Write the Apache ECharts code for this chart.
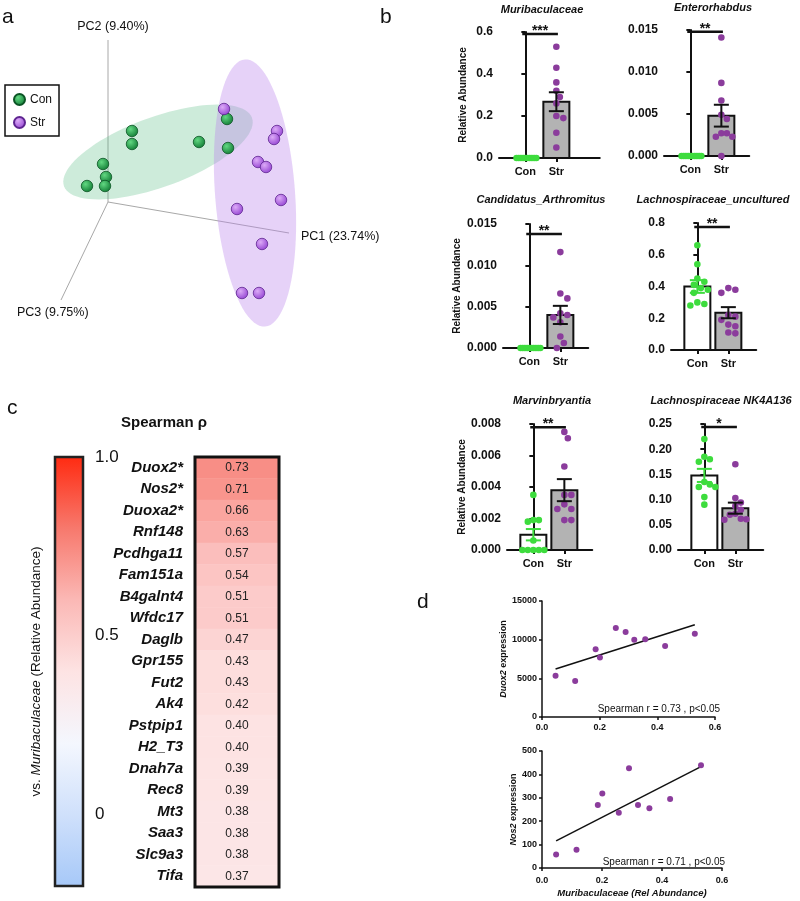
<!DOCTYPE html>
<html><head><meta charset="utf-8">
<script src="https://cdn.jsdelivr.net/npm/echarts@6/dist/echarts.min.js"></script>
<style>html,body{margin:0;padding:0;background:#fff}#c{width:800px;height:901px}</style>
</head><body><div id="c"></div><script>
const FONT = '"Liberation Sans", Arial, Helvetica, sans-serif';
const CON = '#3ddc3d', STR = '#8b3c9c';

// ---------- Panel a: PCoA scores (plot units) ----------
const pcaConX = [132, 132, 199, 227, 228, 103, 106, 105, 87];
const pcaConY = [131, 144, 142, 119, 148, 164, 177, 186, 186];
const pcaStrX = [224, 277, 274, 258, 266, 281, 237, 262, 242, 259];
const pcaStrY = [109, 131, 139, 162, 167, 200, 209, 244, 293, 293];
const conEllipse = [158, 152, 100, 35, -20];   // cx, cy, a, b, angle
const strEllipse = [255, 193, 134, 40, 85.7];
const pcaOrigin = [108, 202];
const pcaAxisEnds = [[289, 233], [108, 40], [61, 300]];
const pcaAxisLabels = ['PC1 (23.74%)', 'PC2 (9.40%)', 'PC3 (9.75%)'];

// ---------- Panel b: relative abundance ----------
const taxa = ['Muribaculaceae', 'Enterorhabdus', 'Candidatus_Arthromitus', 'Lachnospiraceae_uncultured', 'Marvinbryantia', 'Lachnospiraceae NK4A136'];
const groups = ['Con', 'Str'];
const conMean = [0, 0, 0, 0.40, 0.00097, 0.148];
const conSem = [0, 0, 0, 0.04, 0.00036, 0.013];
const strMean = [0.268, 0.0048, 0.0040, 0.235, 0.0038, 0.083];
const strSem = [0.045, 0.0013, 0.0011, 0.035, 0.0007, 0.011];
const conPoints = [
  [0, 0, 0, 0, 0, 0, 0, 0, 0, 0],
  [0, 0, 0, 0, 0, 0, 0, 0, 0, 0],
  [0, 0, 0, 0, 0, 0, 0, 0, 0, 0],
  [0.66, 0.54, 0.45, 0.43, 0.41, 0.39, 0.38, 0.36, 0.30, 0.29, 0.28],
  [0.0035, 0.0019, 0.0019, 0.0018, 0.0006, 0, 0, 0, 0, 0],
  [0.22, 0.185, 0.18, 0.175, 0.135, 0.13, 0.125, 0.125, 0.105, 0.09]
];
const strPoints = [
  [0.53, 0.43, 0.36, 0.32, 0.29, 0.26, 0.20, 0.19, 0.12, 0.05],
  [0.0141, 0.0087, 0.0066, 0.0049, 0.0044, 0.0027, 0.0023, 0.0023, 0.0027, 0.0],
  [0.0116, 0.0066, 0.0060, 0.0042, 0.0040, 0.0037, 0.0031, 0.0014, 0.0006, 0.0],
  [0.39, 0.38, 0.36, 0.22, 0.21, 0.19, 0.16, 0.15, 0.11, 0.105],
  [0.0075, 0.0071, 0.0053, 0.0035, 0.0035, 0.0029, 0.0026, 0.0026, 0.0019, 0.0019],
  [0.17, 0.103, 0.094, 0.087, 0.08, 0.072, 0.07, 0.062, 0.061, 0.06]
];
const sigStars = ['***', '**', '**', '**', '**', '*'];
const sigHeight = [0.59, 0.0148, 0.0138, 0.775, 0.0078, 0.244];
const yMaxB = [0.6, 0.015, 0.015, 0.8, 0.008, 0.25];
const yStepB = [0.2, 0.005, 0.005, 0.2, 0.002, 0.05];

// ---------- Panel c: Spearman heatmap ----------
const genes = ['Duox2*', 'Nos2*', 'Duoxa2*', 'Rnf148', 'Pcdhga11', 'Fam151a', 'B4galnt4', 'Wfdc17', 'Daglb', 'Gpr155', 'Fut2', 'Ak4', 'Pstpip1', 'H2_T3', 'Dnah7a', 'Rec8', 'Mt3', 'Saa3', 'Slc9a3', 'Tifa'];
const rho = [0.73, 0.71, 0.66, 0.63, 0.57, 0.54, 0.51, 0.51, 0.47, 0.43, 0.43, 0.42, 0.40, 0.40, 0.39, 0.39, 0.38, 0.38, 0.38, 0.37];
const cbarRange = [-0.2, 1.0];
const cbarTicks = [0, 0.5, 1.0];
const cmap = ['#a6c8f8', '#cfe0fb', '#f4f7fe', '#fde3e3', '#fbb8b5', '#f7786c', '#ff2a10'];

// ---------- Panel d: correlations ----------
const muriAbund = [0.047, 0.115, 0.186, 0.201, 0.256, 0.29, 0.32, 0.358, 0.427, 0.53];
const duox2Expr = [5340, 4650, 8746, 7710, 11500, 10980, 9990, 10050, 9170, 10760];
const nos2Expr = [58, 78, 269, 318, 236, 426, 269, 255, 295, 439];
const corrNotes = ['Spearman r = 0.73 , p<0.05', 'Spearman r = 0.71 , p<0.05'];

// ================= build =================
const grids = [], xAxes = [], yAxes = [], series = [], graphics = [];
function addGrid(g) { grids.push(Object.assign({ containLabel: false, outerBoundsMode: 'none', show: false }, g)); return grids.length - 1; }
function txt(x, y, text, opt) {
  const st = Object.assign({ text: text, fill: '#111', fontFamily: FONT, fontSize: 12, align: 'left', textAlign: 'left', verticalAlign: 'middle', textVerticalAlign: 'middle' }, opt || {});
  if (st.align) st.textAlign = st.align;
  graphics.push({ type: 'text', x: x, y: y, silent: true, z: 50, style: st });
}
const blackLine = { color: '#111', width: 2 };

// ---- Panel a ----
const gA = addGrid({ left: 0, top: 0, width: 400, height: 330 });
const xA = xAxes.push({ type: 'value', gridIndex: gA, min: 0, max: 400, show: false }) - 1;
const yA = yAxes.push({ type: 'value', gridIndex: gA, min: 0, max: 330, inverse: true, show: false }) - 1;
pcaAxisEnds.forEach((e, i) => {
  series.push({ type: 'line', name: 'pcAxis' + i, xAxisIndex: xA, yAxisIndex: yA, data: [pcaOrigin, e], symbol: 'none', silent: true, z: 1, lineStyle: { color: '#a8a8a8', width: 1 } });
});
function ellipseSeries(par, fill) {
  return {
    type: 'custom', name: 'ell', xAxisIndex: xA, yAxisIndex: yA, data: [par], silent: true, z: 2,
    renderItem: (params, api) => {
      const cx = api.value(0), cy = api.value(1), a = api.value(2), b = api.value(3), th = api.value(4) * Math.PI / 180;
      const pts = [];
      for (let i = 0; i < 90; i++) {
        const t = i / 90 * 2 * Math.PI;
        pts.push(api.coord([cx + a * Math.cos(t) * Math.cos(th) - b * Math.sin(t) * Math.sin(th), cy + a * Math.cos(t) * Math.sin(th) + b * Math.sin(t) * Math.cos(th)]));
      }
      return { type: 'polygon', shape: { points: pts }, style: { fill: fill } };
    }
  };
}
series.push(ellipseSeries(conEllipse, 'rgba(70,180,120,0.27)'));
series.push(ellipseSeries(strEllipse, 'rgba(185,130,235,0.36)'));
const sphere = (c0, c1) => ({ type: 'radial', x: 0.38, y: 0.35, r: 0.7, colorStops: [{ offset: 0, color: c0 }, { offset: 1, color: c1 }] });
series.push({ type: 'scatter', name: 'Con', xAxisIndex: xA, yAxisIndex: yA, z: 3, symbolSize: 11.5, data: pcaConX.map((x, i) => [x, pcaConY[i]]), itemStyle: { color: sphere('#62d882', '#0f7a33'), borderColor: '#0b5424', borderWidth: 0.8, opacity: 1 } });
series.push({ type: 'scatter', name: 'Str', xAxisIndex: xA, yAxisIndex: yA, z: 3, symbolSize: 11.5, data: pcaStrX.map((x, i) => [x, pcaStrY[i]]), itemStyle: { color: sphere('#dcaaf7', '#9342d2'), borderColor: '#5e2590', borderWidth: 0.8, opacity: 1 } });
txt(301, 237, pcaAxisLabels[0], { fontSize: 12.5 });
txt(113, 27, pcaAxisLabels[1], { fontSize: 12.5, align: 'center' });
txt(17, 313, pcaAxisLabels[2], { fontSize: 12.5 });

// ---- Panel b ----
const XMIN = -0.85, PXU = 31;
const barLayout = [
  { left: 499, top: 32, h: 126, xMax: 2.4, tx: 542, ty: 10, yName: true, nameGap: 31 },
  { left: 664, top: 30, h: 126, xMax: 1.9, tx: 713, ty: 8 },
  { left: 503, top: 224, h: 124, xMax: 1.9, tx: 541, ty: 200, yName: true, nameGap: 41 },
  { left: 671, top: 223, h: 127, xMax: 1.9, tx: 713, ty: 200 },
  { left: 507, top: 424, h: 126, xMax: 1.9, tx: 552, ty: 401, yName: true, nameGap: 39 },
  { left: 678, top: 424, h: 126, xMax: 1.9, tx: 721, ty: 401 }
];
function swarm(vals, ymax, h, dot, maxHalf) {
  const order = vals.map((v, i) => i).sort((a, b) => vals[b] - vals[a]);
  const placed = [], off = vals.map(() => 0);
  const slots = [0]; for (let k = 1; k < 14; k++) slots.push(k, -k);
  order.forEach(i => {
    const y = vals[i] / ymax * h;
    for (const s of slots) {
      const x = s * dot * 0.5;
      if (placed.every(q => Math.hypot(q.x - x, q.y - y) >= dot * 0.95)) { off[i] = x; placed.push({ x, y }); break; }
    }
  });
  const m = Math.max(...off.map(Math.abs));
  if (m > maxHalf) for (let i = 0; i < off.length; i++) off[i] *= maxHalf / m;
  return off;
}
taxa.forEach((t, k) => {
  const L = barLayout[k];
  const dec = Math.ceil(-Math.log10(yStepB[k]) - 1e-9);
  const gi = addGrid({ left: L.left, top: L.top, width: (L.xMax - XMIN) * PXU, height: L.h });
  const xi = xAxes.push({
    type: 'value', gridIndex: gi, min: XMIN, max: L.xMax,
    axisLine: { show: true, onZero: false, lineStyle: blackLine },
    axisTick: { show: true, customValues: [0, 1], length: 4, lineStyle: blackLine },
    axisLabel: { show: true, customValues: [0, 1], formatter: v => groups[Math.round(v)], margin: 8, fontSize: 11, fontWeight: 'bold', color: '#111', fontFamily: FONT },
    splitLine: { show: false }
  }) - 1;
  const yi = yAxes.push({
    type: 'value', gridIndex: gi, min: 0, max: yMaxB[k], interval: yStepB[k],
    axisLine: { show: true, lineStyle: blackLine },
    axisTick: { show: true, length: 4, lineStyle: blackLine },
    axisLabel: { formatter: v => v.toFixed(dec), margin: 6, fontSize: 12, fontWeight: 'bold', color: '#111', fontFamily: FONT },
    splitLine: { show: false },
    name: L.yName ? 'Relative Abundance' : '', nameLocation: 'middle', nameGap: L.nameGap || 30,
    nameTextStyle: { fontSize: 10, fontWeight: 'bold', color: '#111', fontFamily: FONT }
  }) - 1;
  // bars
  series.push({
    type: 'custom', name: 'bar' + k, xAxisIndex: xi, yAxisIndex: yi, z: 2, silent: true,
    data: [[0, conMean[k]], [1, strMean[k]]],
    renderItem: (params, api) => {
      const x = api.value(0), m = api.value(1);
      if (!m) return null;
      const p0 = api.coord([x, 0]), p1 = api.coord([x, m]);
      return { type: 'rect', shape: { x: p0[0] - 13, y: p1[1], width: 26, height: p0[1] - p1[1] }, style: { fill: x === 0 ? '#ffffff' : '#b3b3b3', stroke: '#111', lineWidth: 2 } };
    }
  });
  // dots
  const dots = [];
  [conPoints[k], strPoints[k]].forEach((vals, g) => {
    const off = swarm(vals, yMaxB[k], L.h, 7, 11);
    vals.forEach((v, i) => dots.push([g, v, off[i]]));
  });
  series.push({
    type: 'custom', name: 'dots' + k, xAxisIndex: xi, yAxisIndex: yi, z: 3, silent: true, data: dots,
    renderItem: (params, api) => {
      const p = api.coord([api.value(0), api.value(1)]);
      return { type: 'circle', shape: { cx: p[0] + api.value(2), cy: p[1], r: 3.3 }, style: { fill: api.value(0) === 0 ? CON : STR } };
    }
  });
  // error bars
  series.push({
    type: 'custom', name: 'err' + k, xAxisIndex: xi, yAxisIndex: yi, z: 4, silent: true,
    data: [[0, conMean[k], conSem[k]], [1, strMean[k], strSem[k]]],
    renderItem: (params, api) => {
      const x = api.value(0), m = api.value(1), s = api.value(2);
      if (!s) return null;
      const a = api.coord([x, m + s]), b = api.coord([x, m - s]);
      const st = { stroke: x === 0 ? CON : '#111', lineWidth: 2 };
      const hw = 7.5;
      return { type: 'group', children: [
        { type: 'line', shape: { x1: a[0], y1: a[1], x2: b[0], y2: b[1] }, style: st },
        { type: 'line', shape: { x1: a[0] - hw, y1: a[1], x2: a[0] + hw, y2: a[1] }, style: st },
        { type: 'line', shape: { x1: b[0] - hw, y1: b[1], x2: b[0] + hw, y2: b[1] }, style: st }
      ] };
    }
  });
  // significance
  series.push({
    type: 'custom', name: 'sig' + k, xAxisIndex: xi, yAxisIndex: yi, z: 5, silent: true,
    data: [[-0.1, sigHeight[k], 1.05]],
    renderItem: (params, api) => {
      const a = api.coord([api.value(0), api.value(1)]), b = api.coord([api.value(2), api.value(1)]);
      return { type: 'group', children: [
        { type: 'line', shape: { x1: a[0], y1: a[1], x2: b[0], y2: b[1] }, style: { stroke: '#111', lineWidth: 2.5 } },
        { type: 'text', style: { text: sigStars[k], x: (a[0] + b[0]) / 2, y: a[1] - 3, align: 'center', textAlign: 'center', verticalAlign: 'middle', textVerticalAlign: 'middle', fontSize: 14, fontWeight: 'bold', fontFamily: FONT, fill: '#111' } }
      ] };
    }
  });
  txt(L.tx, L.ty, t, { fontSize: 11, fontWeight: 'bold', fontStyle: 'italic', align: 'center' });
});

// ---- Panel c ----
const gCb = addGrid({ left: 55, top: 457, width: 28, height: 429 });
const xCb = xAxes.push({ type: 'value', gridIndex: gCb, min: 0, max: 1, show: false }) - 1;
const yCb = yAxes.push({
  type: 'value', gridIndex: gCb, min: cbarRange[0], max: cbarRange[1], position: 'left',
  axisLine: { show: false }, splitLine: { show: false }, axisLabel: { show: false },
  axisTick: { show: true, inside: true, length: 5, customValues: [0, 0.5], lineStyle: { color: '#222', width: 2 } },
  name: '{n|vs. }{i|Muribaculaceae}{n| (Relative Abundance)}', nameLocation: 'middle', nameGap: 12,
  nameTextStyle: { fontSize: 13.5, color: '#111', fontFamily: FONT, rich: { n: { fontSize: 13.5, color: '#111', fontFamily: FONT }, i: { fontSize: 13.5, color: '#111', fontStyle: 'italic', fontFamily: FONT } } }
}) - 1;
yAxes.push({
  type: 'value', gridIndex: gCb, min: cbarRange[0], max: cbarRange[1], position: 'right',
  axisLine: { show: false }, splitLine: { show: false },
  axisTick: { show: true, inside: true, length: 5, customValues: [0, 0.5], lineStyle: { color: '#222', width: 2 } },
  axisLabel: { show: true, customValues: cbarTicks, formatter: v => (v === 0 ? '0' : v.toFixed(1)), margin: 12, fontSize: 17, color: '#111', fontFamily: FONT }
});
series.push({
  type: 'custom', name: 'cbar', xAxisIndex: xCb, yAxisIndex: yCb, z: 3, silent: true,
  data: [[0, cbarRange[1], 1, cbarRange[0]]],
  renderItem: (params, api) => {
    const a = api.coord([api.value(0), api.value(1)]), b = api.coord([api.value(2), api.value(3)]);
    const stops = cmap.slice().reverse().map((c, i, arr) => ({ offset: i / (arr.length - 1), color: c }));
    return { type: 'rect', shape: { x: a[0], y: a[1], width: b[0] - a[0], height: b[1] - a[1] }, style: { fill: { type: 'linear', x: 0, y: 0, x2: 0, y2: 1, colorStops: stops }, stroke: '#222', lineWidth: 2.5 } };
  }
});
const gH = addGrid({ left: 195, top: 457, width: 84, height: 430, show: true, z: 10, borderColor: '#111', borderWidth: 3, backgroundColor: 'transparent' });
const xH = xAxes.push({ type: 'category', gridIndex: gH, data: ['rho'], show: false }) - 1;
const yH = yAxes.push({
  type: 'category', gridIndex: gH, data: genes, inverse: true,
  axisLine: { show: false }, axisTick: { show: false }, splitLine: { show: false },
  axisLabel: { interval: 0, margin: 12, fontSize: 15, fontWeight: 'bold', fontStyle: 'italic', color: '#111', fontFamily: FONT }
}) - 1;
const heatIndex = series.length;
series.push({
  type: 'heatmap', name: 'rho', xAxisIndex: xH, yAxisIndex: yH, silent: true,
  data: rho.map((v, i) => [0, i, v]),
  itemStyle: { borderWidth: 0 },
  label: { show: true, formatter: p => p.data[2].toFixed(2), fontSize: 12, color: '#222', fontFamily: FONT }
});
txt(164, 423, 'Spearman ρ', { fontSize: 15, fontWeight: 'bold', align: 'center' });

// ---- Panel d ----
function fit(xs, ys) {
  const n = xs.length, mx = xs.reduce((a, b) => a + b) / n, my = ys.reduce((a, b) => a + b) / n;
  let sxy = 0, sxx = 0; xs.forEach((x, i) => { sxy += (x - mx) * (ys[i] - my); sxx += (x - mx) ** 2; });
  const s = sxy / sxx, b = my - s * mx, x0 = Math.min(...xs), x1 = Math.max(...xs);
  return [[x0, s * x0 + b], [x1, s * x1 + b]];
}
const dAxisFont = { fontSize: 9, fontWeight: 'bold', color: '#111', fontFamily: FONT };
function corrPlot(g, ys, yMax, yStep, yName, yGap, xName, xMargin) {
  const gi = addGrid(g);
  const xi = xAxes.push({
    type: 'value', gridIndex: gi, min: 0, max: 0.6, interval: 0.2,
    axisLine: { show: true, onZero: false, lineStyle: { color: '#111', width: 1.5 } },
    axisTick: { show: true, length: 3, lineStyle: { color: '#111', width: 1.5 } },
    axisLabel: Object.assign({ formatter: v => v.toFixed(1), margin: xMargin }, dAxisFont),
    splitLine: { show: false },
    name: xName || '', nameLocation: 'middle', nameGap: 20,
    nameTextStyle: { fontSize: 9.5, fontWeight: 'bold', fontStyle: 'italic', color: '#111', fontFamily: FONT }
  }) - 1;
  const yi = yAxes.push({
    type: 'value', gridIndex: gi, min: 0, max: yMax, interval: yStep,
    axisLine: { show: true, lineStyle: { color: '#111', width: 1.5 } },
    axisTick: { show: true, length: 3, lineStyle: { color: '#111', width: 1.5 } },
    axisLabel: Object.assign({ margin: 5, formatter: v => String(Math.round(v)) }, dAxisFont),
    splitLine: { show: false },
    name: yName, nameLocation: 'middle', nameGap: yGap,
    nameTextStyle: Object.assign({ rich: { i: Object.assign({ fontStyle: 'italic' }, dAxisFont) } }, dAxisFont)
  }) - 1;
  series.push({ type: 'scatter', name: 'pts' + gi, xAxisIndex: xi, yAxisIndex: yi, symbolSize: 6, silent: true, z: 3, data: muriAbund.map((x, i) => [x, ys[i]]), itemStyle: { color: STR, opacity: 1 } });
  series.push({ type: 'line', name: 'fit' + gi, xAxisIndex: xi, yAxisIndex: yi, symbol: 'none', silent: true, z: 2, data: fit(muriAbund, ys), lineStyle: { color: '#111', width: 1.5 } });
}
corrPlot({ left: 542, top: 601, width: 173, height: 116 }, duox2Expr, 15000, 5000, '{i|Duox2} expression', 31, '', 6);
corrPlot({ left: 542, top: 751, width: 180, height: 117 }, nos2Expr, 500, 100, '{i|Nos2} expression', 23, 'Muribaculaceae (Rel Abundance)', 8);
txt(720, 709, corrNotes[0], { fontSize: 10, align: 'right' });
txt(725, 862, corrNotes[1], { fontSize: 10, align: 'right' });

// panel letters
txt(2, 17, 'a', { fontSize: 21 });
txt(380, 17, 'b', { fontSize: 21 });
txt(7, 408, 'c', { fontSize: 21 });
txt(417, 602, 'd', { fontSize: 21 });

const chart = echarts.init(document.getElementById('c'), null, { renderer: 'canvas' });
chart.setOption({
  animation: false,
  backgroundColor: '#ffffff',
  textStyle: { fontFamily: FONT },
  grid: grids, xAxis: xAxes, yAxis: yAxes, series: series,
  legend: {
    data: ['Con', 'Str'], left: 5, top: 85, orient: 'vertical', selectedMode: false,
    borderColor: '#111', borderWidth: 1.5, padding: [8, 7, 7, 8], itemGap: 10, itemWidth: 11, itemHeight: 11,
    icon: 'circle', textStyle: { fontSize: 12, color: '#111', fontFamily: FONT }
  },
  visualMap: { type: 'continuous', show: false, min: cbarRange[0], max: cbarRange[1], seriesIndex: heatIndex, inRange: { color: cmap } },
  graphic: { elements: graphics }
});
</script></body></html>
